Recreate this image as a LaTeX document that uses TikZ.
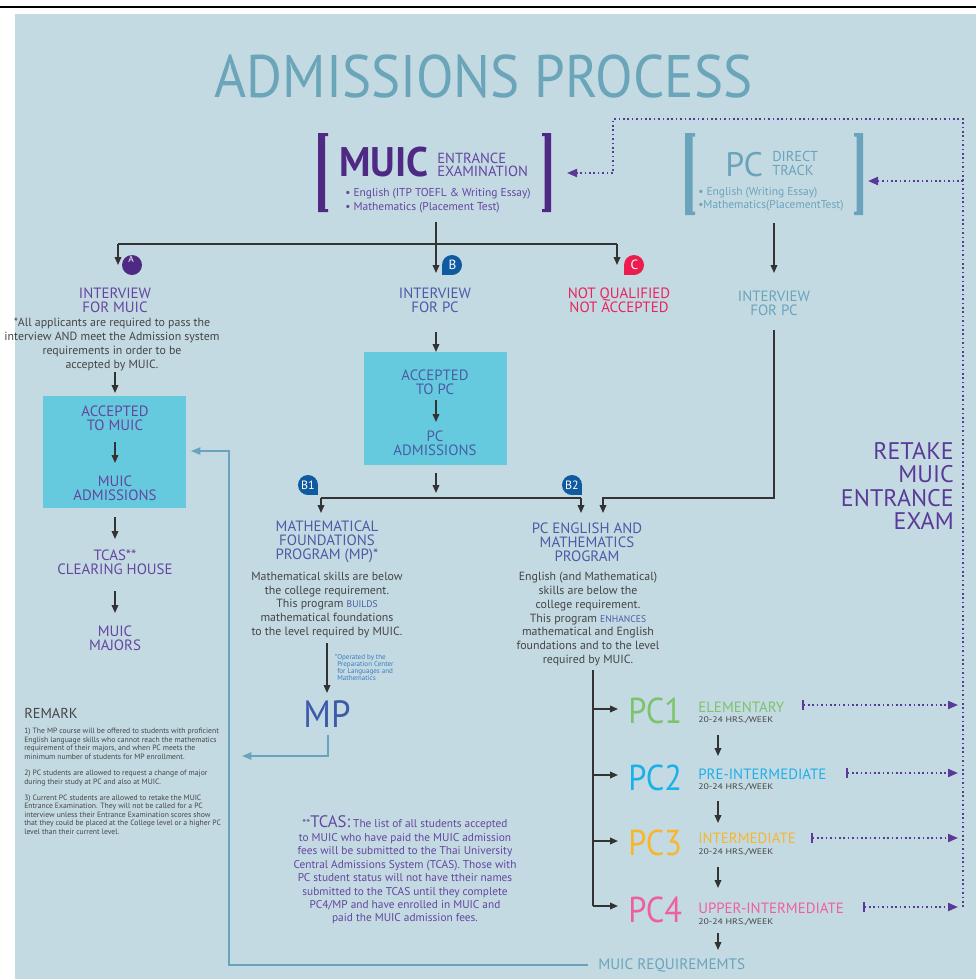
\documentclass[tikz,border=0pt]{standalone}
\usepackage{fontspec}
\setmainfont{PT Sans}
\usetikzlibrary{arrows.meta}
\definecolor{bg}{HTML}{C4DAE2}
\definecolor{titlec}{HTML}{6BA5BA}
\definecolor{mpurple}{HTML}{4E2A84}
\definecolor{tpurple}{HTML}{6446A0}
\definecolor{tblue}{HTML}{4A5CA6}
\definecolor{steel}{HTML}{6AA4BC}
\definecolor{cyanbox}{HTML}{66CADF}
\definecolor{redc}{HTML}{E8245C}
\definecolor{badgeblue}{HTML}{0F5AA0}
\definecolor{badgered}{HTML}{EC1C4F}
\definecolor{grayt}{HTML}{454545}
\definecolor{lineg}{HTML}{333333}
\definecolor{pcgreen}{HTML}{7CC36C}
\definecolor{pcblue}{HTML}{1CB0EA}
\definecolor{pcorange}{HTML}{F7B62C}
\definecolor{pcpink}{HTML}{EE5FA2}
\definecolor{dotc}{HTML}{5A3A98}
\definecolor{mpblue}{HTML}{3D5BA8}
\definecolor{notec}{HTML}{3A7CC0}
\tikzset{
 lnk/.style={draw=lineg,line width=1.1pt},
 arr/.style={lnk,-{Triangle[length=6pt,width=5pt]}},
 sarr/.style={draw=steel,line width=1.1pt,-{Triangle[length=7pt,width=5.5pt]}},
 dotl/.style={draw=dotc,line width=1.5pt,dash pattern=on 1.2pt off 2.1pt},
 darr/.style={dotl,{Bar[width=7.5pt,line width=1.5pt]}-{Triangle[length=7.5pt,width=6pt]}},
 dend/.style={dotl,-{Triangle[length=7.5pt,width=6pt]}},
 txt/.style={inner sep=0pt,align=center},
 lab/.style={txt,font=\fontsize{11.2}{10.5}\selectfont},
 body/.style={txt,grayt,font=\fontsize{8.9}{10.3}\selectfont},
 badgetxt/.style={white,inner sep=0pt,font=\fontsize{10}{10}\selectfont},
 cbox/.style={fill=cyanbox,draw=none,minimum width=107.25pt,inner sep=0pt},
 pcbig/.style={inner sep=0pt,anchor=west,font=\fontsize{27}{27}\selectfont},
 pclvl/.style={inner sep=0pt,anchor=west,font=\fontsize{11.2}{11.2}\selectfont},
 hrs/.style={inner sep=0pt,anchor=west,grayt,font=\fontsize{6.1}{6.1}\selectfont},
}
\newcommand\hrstext{\scalebox{1.2}[1]{20-24 HRS./WEEK}}
\begin{document}
\begin{tikzpicture}[x=0.75pt,y=-0.75pt]
\useasboundingbox (0,0) rectangle (976,979);
\fill[white] (0,0) rectangle (976,979);
\fill[bg] (15,14) rectangle (976,979);
\draw[black,line width=1.6pt] (0,7) -- (976,7);

% title
\node[txt,titlec,font=\fontsize{45}{45}\selectfont] (title) at (483.5,76) {\scalebox{0.915}[1]{ADMISSIONS PROCESS}};

% MUIC entrance examination
\fill[mpurple] (318,133) -- (328,133) -- (328,136) -- (325,136) -- (325,209) -- (328,209) -- (328,212) -- (318,212) -- cycle;
\fill[mpurple] (551,133) -- (542,133) -- (542,136) -- (544.5,136) -- (544.5,209) -- (542,209) -- (542,212) -- (551,212) -- cycle;
\node[inner sep=0pt,anchor=west,mpurple,font=\bfseries\fontsize{31}{31}\selectfont] (muic) at (339,162.5) {\scalebox{0.95}[1]{MUIC}};
\node[inner sep=0pt,anchor=west,tpurple,align=left,font=\fontsize{11}{10.1}\selectfont] (entr) at (437,165) {ENTRANCE\\EXAMINATION};
\node[inner sep=0pt,anchor=west,tpurple,align=left,font=\fontsize{8.6}{10.5}\selectfont] (mbul) at (345,200.5) {• English (ITP TOEFL \& Writing Essay)\\• Mathematics (Placement Test)};
\coordinate (muicbot) at (436,222);

% PC direct track
\fill[steel] (685,133) -- (695,133) -- (695,136.5) -- (692.5,136.5) -- (692.5,211.5) -- (695,211.5) -- (695,215) -- (685,215) -- cycle;
\fill[steel] (863,133) -- (854,133) -- (854,136.5) -- (856.5,136.5) -- (856.5,211.5) -- (854,211.5) -- (854,215) -- (863,215) -- cycle;
\node[inner sep=0pt,anchor=west,steel,font=\fontsize{25.5}{25.5}\selectfont] (pcd) at (725,165) {PC};
\node[inner sep=0pt,anchor=west,steel,align=left,font=\fontsize{10.8}{10}\selectfont] (dir) at (772,163.5) {DIRECT\\TRACK};
\node[inner sep=0pt,anchor=west,steel,align=left,font=\fontsize{8.6}{9.75}\selectfont] (pbul) at (698,199.5) {• English (Writing Essay)\\•Mathematics(PlacementTest)};
\coordinate (pcbot) at (774,223);

% top connectors
\coordinate (jA) at (118,244);
\coordinate (jC) at (617,244);
\draw[lnk] (jA) -- (jC);
\draw[arr] (muicbot) -- (436,273);
\draw[arr] (jA) -- (118,265);
\draw[arr] (jC) -- (617,265);

% badges
\fill[mpurple] (132,265) circle[radius=7.5pt];
\node[badgetxt,font=\fontsize{7}{7}\selectfont] (bA) at (131,259) {A};
\fill[badgeblue] (452,265) circle[radius=7.5pt];
\fill[badgeblue] (442,265) rectangle (452,275);
\node[badgetxt] (bB) at (452.5,265) {B};
\fill[badgered] (634,265) circle[radius=7.5pt];
\fill[badgered] (624,265) rectangle (634,275);
\node[badgetxt] (bC) at (634.5,265) {C};
\fill[badgeblue] (308,485) circle[radius=7.5pt];
\fill[badgeblue] (308,485) rectangle (318,495);
\node[badgetxt,font=\fontsize{9}{9}\selectfont] (bB1) at (308,485) {B1};
\fill[badgeblue] (572,485) circle[radius=7.5pt];
\fill[badgeblue] (572,485) rectangle (582,495);
\node[badgetxt,font=\fontsize{9}{9}\selectfont] (bB2) at (572,485) {B2};

% left column
\node[lab,tpurple] (intmuic) at (115,300) {INTERVIEW\\FOR MUIC};
\node[body,font=\fontsize{8.9}{10.5}\selectfont] (note) at (112,344) {*All applicants are required to pass the\\interview AND meet the Admission system\\requirements in order to be\\accepted by MUIC.};
\draw[arr] (115,372) -- (115,393);
\node[cbox,minimum height=84pt] (boxmuic) at (114.5,452) {};
\node[lab,tpurple] (accmuic) at (115,418.5) {ACCEPTED\\TO MUIC};
\node[lab,tpurple] (admmuic) at (115,488) {MUIC\\ADMISSIONS};
\draw[arr] (115,442) -- (115,463);
\draw[arr] (115,517) -- (115,539);
\node[lab,tpurple] (tcas) at (115,562) {TCAS**\\CLEARING HOUSE};
\draw[arr] (115,591) -- (115,613);
\node[lab,tpurple] (majors) at (115,638) {MUIC\\MAJORS};

% middle column
\node[lab,tblue] (intpc) at (435,300) {INTERVIEW\\FOR PC};
\node[lab,redc] (notq) at (619,300) {NOT QUALIFIED\\NOT ACCEPTED};
\draw[arr] (436,332) -- (436,352);
\node[cbox,minimum height=84.75pt] (boxpc) at (435.5,408.5) {};
\node[lab,tblue] (accpc) at (435,382) {ACCEPTED\\TO PC};
\draw[arr] (436,400) -- (436,422);
\node[lab,tblue] (admpc) at (435,443) {PC\\ADMISSIONS};
\draw[arr] (436,473) -- (436,493);
\coordinate (jB1) at (321,498);
\coordinate (jB2) at (581,498);
\draw[lnk] (jB1) -- (jB2);
\draw[arr] (jB1) -- (321,513);
\draw[arr] (jB2) -- (581,513);

% right interview
\node[lab,steel] (intpc2) at (774,303) {INTERVIEW\\FOR PC};
\draw[arr] (pcbot) -- (774,273);
\draw[arr] (774,330) -- (774,498) -- (603,498) -- (603,513);

% MP program
\node[lab,tblue] (mfp) at (327,542) {MATHEMATICAL\\FOUNDATIONS\\PROGRAM (MP)*};
\node[body] (mfpb) at (327,605) {Mathematical skills are below\\the college requirement.\\This program \textcolor{tblue}{\fontsize{7.2}{7.2}\selectfont BUILDS}\\mathematical foundations\\to the level required by MUIC.};
\draw[arr] (327,643) -- (327,693);
\node[inner sep=0pt,anchor=west,notec,align=left,font=\fontsize{5.3}{5.2}\selectfont] (oper) at (337,667.5) {\llap{*}Operated by the\\Preparation Center\\for Languages and\\Mathematics};
\node[txt,mpblue,font=\fontsize{28.5}{28.5}\selectfont] (mp) at (327,714) {\scalebox{0.92}[1]{MP}};
\draw[sarr] (328,735) -- (328,756) -- (242,756);

% PC English and Mathematics program
\node[lab,tblue] (pcem) at (587,542) {PC ENGLISH AND\\MATHEMATICS\\PROGRAM};
\node[body] (pcemb) at (588,619) {English (and Mathematical)\\skills are below the\\college requirement.\\This program \textcolor{tblue}{\fontsize{7.2}{7.2}\selectfont ENHANCES}\\mathematical and English\\foundations and to the level\\required by MUIC.};
\coordinate (pcv) at (593,670);
\draw[lnk] (pcv) -- (593,906);
\draw[arr] (593,709) -- (618,709);
\draw[arr] (593,775) -- (618,775);
\draw[arr] (593,841) -- (618,841);
\draw[arr] (593,906) -- (618,906);

% PC levels
\node[pcbig,pcgreen] (pc1) at (628,710.5) {\scalebox{0.9}[1]{PC1}};
\node[pclvl,pcgreen] (l1) at (698,707) {ELEMENTARY};
\node[hrs] (h1) at (698,720) {\hrstext};
\draw[arr] (718,735) -- (718,756);
\node[pcbig,pcblue] (pc2) at (628,777.5) {\scalebox{0.9}[1]{PC2}};
\node[pclvl,pcblue] (l2) at (698,774) {PRE-INTERMEDIATE};
\node[hrs] (h2) at (698,787) {\hrstext};
\draw[arr] (718,801) -- (718,823);
\node[pcbig,pcorange] (pc3) at (628,842.5) {\scalebox{0.9}[1]{PC3}};
\node[pclvl,pcorange] (l3) at (698,838) {INTERMEDIATE};
\node[hrs] (h3) at (698,852) {\hrstext};
\draw[arr] (718,867) -- (718,888);
\node[pcbig,pcpink] (pc4) at (628,909.5) {\scalebox{0.9}[1]{PC4}};
\node[pclvl,pcpink] (l4) at (698,908) {UPPER-INTERMEDIATE};
\node[hrs] (h4) at (698,922) {\hrstext};
\draw[arr] (718,933) -- (718,950);

% retake dotted arrows
\draw[darr] (802,705) -- (958,705);
\draw[darr] (846,773) -- (958,773);
\draw[darr] (811,838) -- (958,838);
\draw[darr] (863,907) -- (958,907);
\draw[dend] (963,907) -- (963,119) -- (613,119) -- (613,173) -- (567,173);
\draw[dend] (963,181) -- (868,181);
\node[inner sep=0pt,anchor=east,align=right,dotc,font=\fontsize{18}{17.5}\selectfont] (retake) at (954,486) {RETAKE\\MUIC\\ENTRANCE\\EXAM};

% MUIC requirements return
\node[inner sep=0pt,anchor=west,steel,font=\fontsize{11.4}{11.4}\selectfont] (req) at (598,965) {MUIC REQUIREMEMTS};
\draw[sarr] (588,965) -- (229,965) -- (229,451) -- (191,451);

% remark
\node[inner sep=0pt,anchor=west,grayt,font=\fontsize{10.8}{10.8}\selectfont] (remark) at (24,713) {REMARK};
\node[inner sep=0pt,anchor=north west,align=left,grayt,font=\fontsize{5.75}{6.45}\selectfont] (rem) at (24,728) {1) The MP course will be offered to students with proficient\\English language skills who cannot reach the mathematics\\requirement of their majors, and when PC meets the\\minimum number of students for MP enrollment.\\[5.5pt]2) PC students are allowed to request a change of major\\during their study at PC and also at MUIC.\\[5.5pt]3) Current PC students are allowed to retake the MUIC\\Entrance Examination. They will not be called for a PC\\interview unless their Entrance Examination scores show\\that they could be placed at the College level or a higher PC\\level than their current level.};

% TCAS note
\node[txt,tpurple,font=\fontsize{8.5}{10.1}\selectfont] (tcasn) at (405,870) {**{\fontsize{12.5}{10}\selectfont TCAS:} The list of all students accepted\\to MUIC who have paid the MUIC admission\\fees will be submitted to the Thai University\\Central Admissions System (TCAS). Those with\\PC student status will not have ttheir names\\submitted to the TCAS until they complete\\PC4/MP and have enrolled in MUIC and\\paid the MUIC admission fees.};
\end{tikzpicture}
\end{document}
